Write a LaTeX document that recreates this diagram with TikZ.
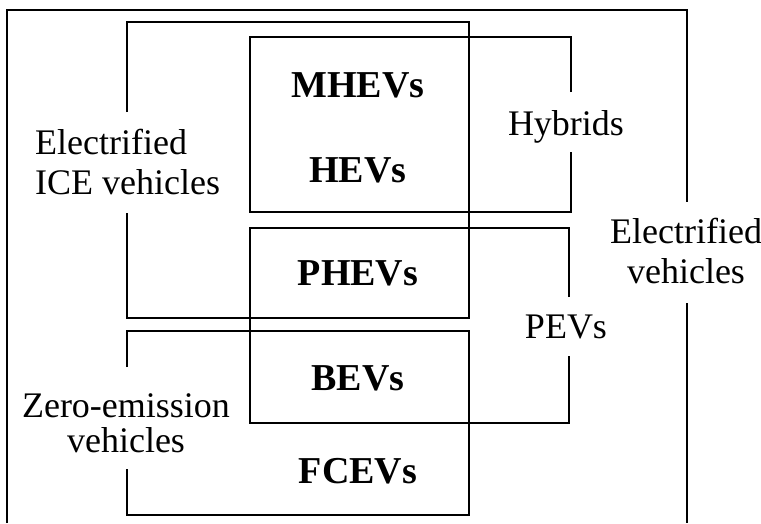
\documentclass[tikz,border=0pt]{standalone}
\usepackage{fontspec}
\setmainfont{Liberation Serif}
\begin{document}
\begin{tikzpicture}[x=1pt,y=-1pt,
	frame/.style={line width=2pt},
	group/.style={font=\fontsize{36}{40}\selectfont,align=center,inner sep=0pt,anchor=base},
	kind/.style={font=\fontsize{38}{42}\selectfont\bfseries,inner sep=0pt,anchor=base}]
	\useasboundingbox (0,0) rectangle (761,523);

	% electrified vehicles, open at the bottom
	\draw[frame] (7,523) -- (7,10) -- (687,10) -- (687,202);
	\draw[frame] (687,303) -- (687,523);
	% electrified ICE vehicles
	\draw[frame] (127,112) -- (127,22) -- (469,22) -- (469,318) -- (127,318) -- (127,213);
	% hybrids
	\draw[frame] (571,92) -- (571,37) -- (250,37) -- (250,212) -- (571,212) -- (571,152);
	% PEVs
	\draw[frame] (569,297) -- (569,228) -- (250,228) -- (250,423) -- (569,423) -- (569,356);
	% zero-emission vehicles
	\draw[frame] (127,367) -- (127,331) -- (469,331) -- (469,515) -- (127,515) -- (127,469);

	\foreach \t/\y [count=\i] in {MHEVs/97,HEVs/182,PHEVs/285,BEVs/390,FCEVs/483} {
		\node[kind] (kind\i) at (358,\y) {\t};
	}

	% base of a two-line node is its last line
	\node[group,align=left,anchor=base west] (ice) at (35,194) {Electrified\\ICE vehicles};
	\node[group,font=\fontsize{36}{35}\selectfont] (zev) at (126,452) {Zero-emission\\vehicles};
	\node[group] (hyb) at (566,135) {Hybrids};
	\node[group] (pev) at (566,338) {PEVs};
	\node[group] (ev) at (686,283) {Electrified\\vehicles};
\end{tikzpicture}
\end{document}
